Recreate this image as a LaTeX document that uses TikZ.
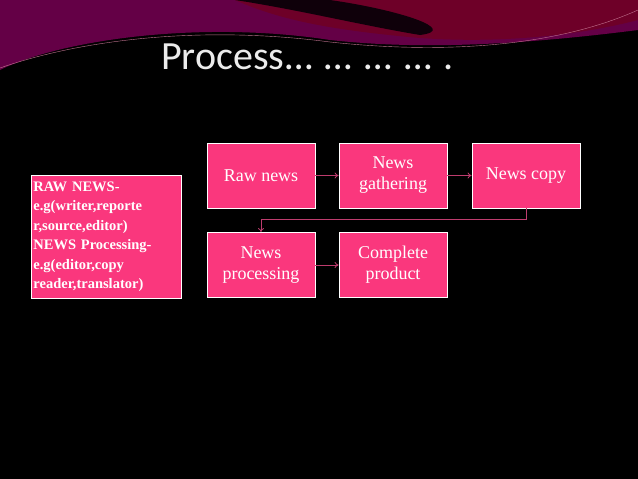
\documentclass[tikz,border=0pt]{standalone}
\usepackage{fontspec}
\usetikzlibrary{arrows.meta}
\setmainfont{Liberation Serif}
\newfontfamily\titlefont{Carlito}
\definecolor{pinkbox}{RGB}{250,55,125}
\definecolor{wine}{RGB}{110,0,40}
\definecolor{plum}{RGB}{100,0,70}
\definecolor{linec}{RGB}{190,60,110}
\tikzset{
 x=1pt,y=-1pt,
 stepbox/.style={draw=white,line width=0.8pt,fill=pinkbox,text=white,minimum width=108pt,minimum height=65pt,align=center,font=\fontsize{18}{21}\selectfont,inner sep=2pt},
 conn/.style={draw=linec,line width=0.8pt,-{To[length=4pt,width=6pt]}}
}
\begin{document}
\begin{tikzpicture}
\fill[black] (0,0) rectangle (638,479);
\useasboundingbox (0,0) rectangle (638,479);
% swoosh
\fill[plum] (0,0) -- (638,0) -- (638,30) .. controls (520,45) and (420,50) .. (330,40) .. controls (200,20) and (60,40) .. (0,70) -- cycle;
\fill[wine] (0,0) -- (235,0) .. controls (280,20) and (330,30) .. (420,38) .. controls (520,45) and (600,30) .. (638,20) -- (638,0) -- cycle;
\fill[black!85!plum] (235,0) .. controls (300,10) and (360,25) .. (420,35) .. controls (460,30) and (400,10) .. (330,0) -- cycle;
\draw[pink!60!plum,line width=0.4pt] (0,68) .. controls (80,40) and (200,25) .. (330,42) .. controls (450,55) and (560,45) .. (638,10);
\node[anchor=west,inner sep=0pt,text=white!85!gray,font=\titlefont\fontsize{40}{44}\selectfont] (title) at (161,57) {Process\kern1pt{\addfontfeature{LetterSpace=30}………….}};
% left box
\node[draw=white,line width=0.8pt,fill=pinkbox,text=white,anchor=north west,minimum width=150pt,minimum height=123pt,text width=146pt,align=left,inner sep=2pt,font=\bfseries\fontsize{14.5}{19.5}\selectfont] (legend) at (31,175) {RAW NEWS-\\e.g(writer,reporte\\r,source,editor)\\NEWS Processing-\\e.g(editor,copy\\reader,translator)};
\node[stepbox] (raw) at (261,175.5) {Raw news};
\node[stepbox] (gath) at (393,175.5) {News\\gathering};
\node[stepbox] (copy) at (526,175.5) {News copy};
\node[stepbox] (proc) at (261,265) {News\\processing};
\node[stepbox] (comp) at (393,265) {Complete\\product};
\draw[conn] (raw) -- (gath);
\draw[conn] (gath) -- (copy);
\draw[conn] (proc) -- (comp);
\draw[conn] (copy.south) |- (261,219) -- (proc.north);
\end{tikzpicture}
\end{document}
